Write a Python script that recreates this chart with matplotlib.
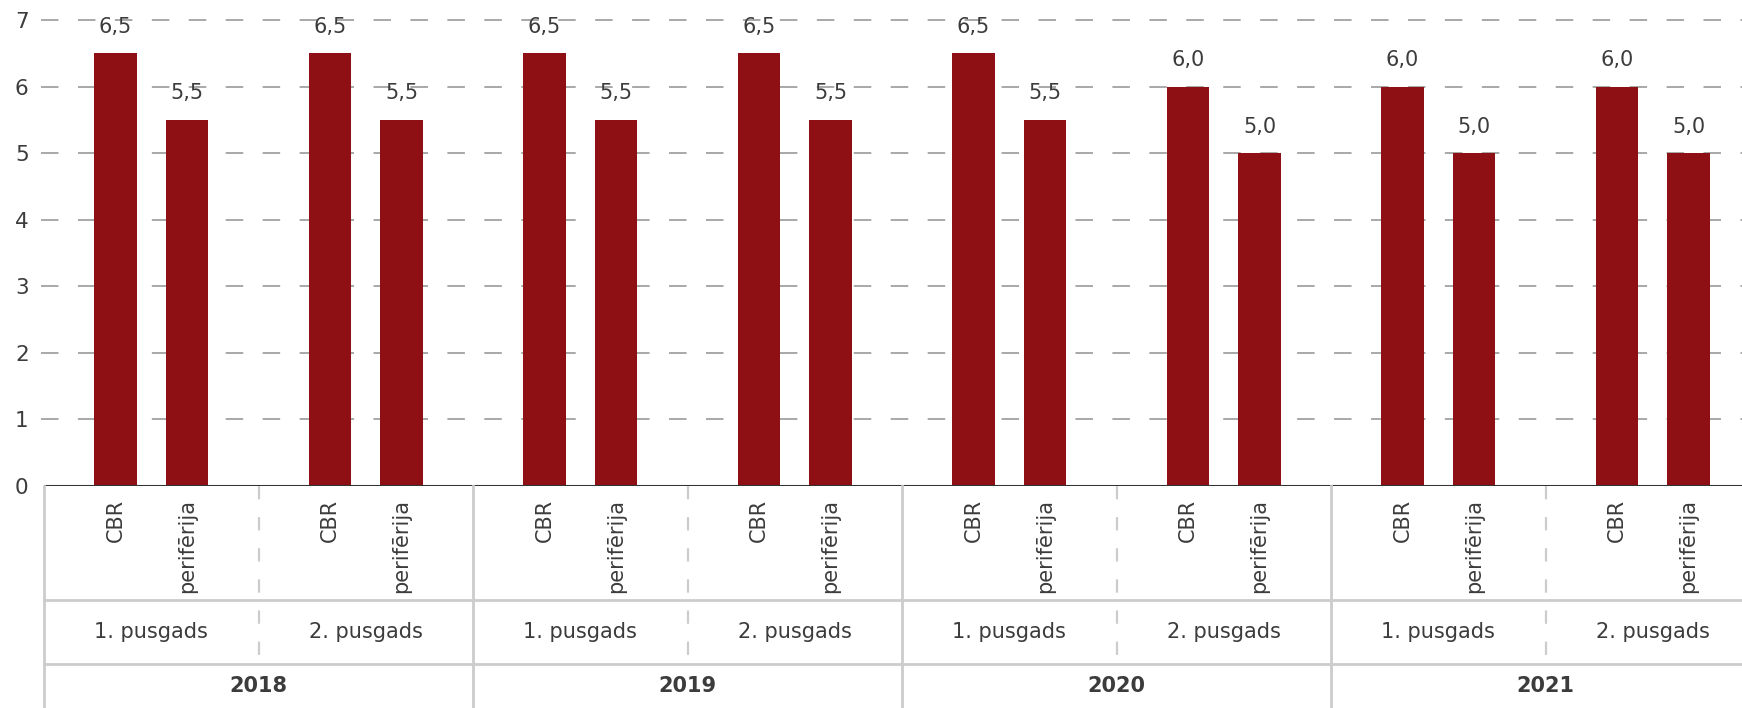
import matplotlib
matplotlib.use("Agg")
import matplotlib.pyplot as plt
import numpy as np

years = ['2018', '2019', '2020', '2021']
halves = ['1. pusgads', '2. pusgads']
series_names = ['CBR', 'perifērija']
cbr = [6.5, 6.5, 6.5, 6.5, 6.5, 6.0, 6.0, 6.0]
periferija = [5.5, 5.5, 5.5, 5.5, 5.5, 5.0, 5.0, 5.0]

BAR = '#8e0f14'
TXT = '#3c3c3c'
GRID = '#a8a8a8'
TABLE = '#cccccc'

W, H = 1742, 708
x0, y0 = 44, 486          # left edge and zero line in pixels
cell = 214.5              # width of one half-year cell in pixels
xmax = (W - x0) / cell

plt.rcParams['font.family'] = ['DejaVu Sans']

fig = plt.figure(figsize=(W / 100, H / 100), dpi=100)
ax = fig.add_axes([x0 / W, (H - y0) / H, (W - x0) / W, y0 / H])
ax.set_xlim(0, xmax)
ax.set_ylim(0, 7.3)

for s in ax.spines.values():
    s.set_visible(False)
ax.set_xticks([])
ax.set_yticks(range(0, 8))
ax.tick_params(axis='y', length=0, pad=11, labelsize=15.5, labelcolor=TXT)

for v in range(1, 8):
    ax.axhline(v, xmin=-0.002, color=GRID, lw=1.4, linestyle=(0, (9, 10)),
               zorder=0, clip_on=False)
ax.axhline(0, color='#333333', lw=2.2, zorder=3)

n = len(cbr)
idx = np.arange(n)
for vals, off in [(cbr, 1 / 3), (periferija, 2 / 3)]:
    ax.bar(idx + off, vals, width=0.2, color=BAR, zorder=2)
    for xi, v in zip(idx + off, vals):
        ax.annotate(f'{v:.1f}'.replace('.', ','), (xi, v), xytext=(0, 19),
                    textcoords='offset points', ha='center', va='center',
                    fontsize=15, color=TXT)

# category table below the axis
tb = fig.add_axes([x0 / W, 0, (W - x0) / W, (H - y0) / H])
tb.set_xlim(0, xmax)
tb.set_ylim(H - y0, 0)
tb.axis('off')

row1, row2 = 114, 178
tb.plot([0, xmax], [row1, row1], color=TABLE, lw=2, clip_on=False)
tb.plot([0, xmax], [row2, row2], color=TABLE, lw=2, clip_on=False)
for k in range(len(years)):
    tb.plot([2 * k, 2 * k], [0, H - y0], color=TABLE, lw=2, clip_on=False)
    tb.plot([2 * k + 1, 2 * k + 1], [0, row2], color=TABLE, lw=1.6,
            linestyle=(0, (6, 8)), clip_on=False)
    tb.text(2 * k + 1, 200, years[k], ha='center', va='center',
            fontsize=15, fontweight='bold', color=TXT)

for i in range(n):
    for j, name in enumerate(series_names):
        tb.text(i + (j + 1) / 3, 13, name, rotation=90, ha='center', va='top',
                fontsize=15, color=TXT)
    tb.text(i + 0.5, 146, halves[i % 2], ha='center', va='center',
            fontsize=15, color=TXT)

fig.savefig('out.png', dpi=100)
